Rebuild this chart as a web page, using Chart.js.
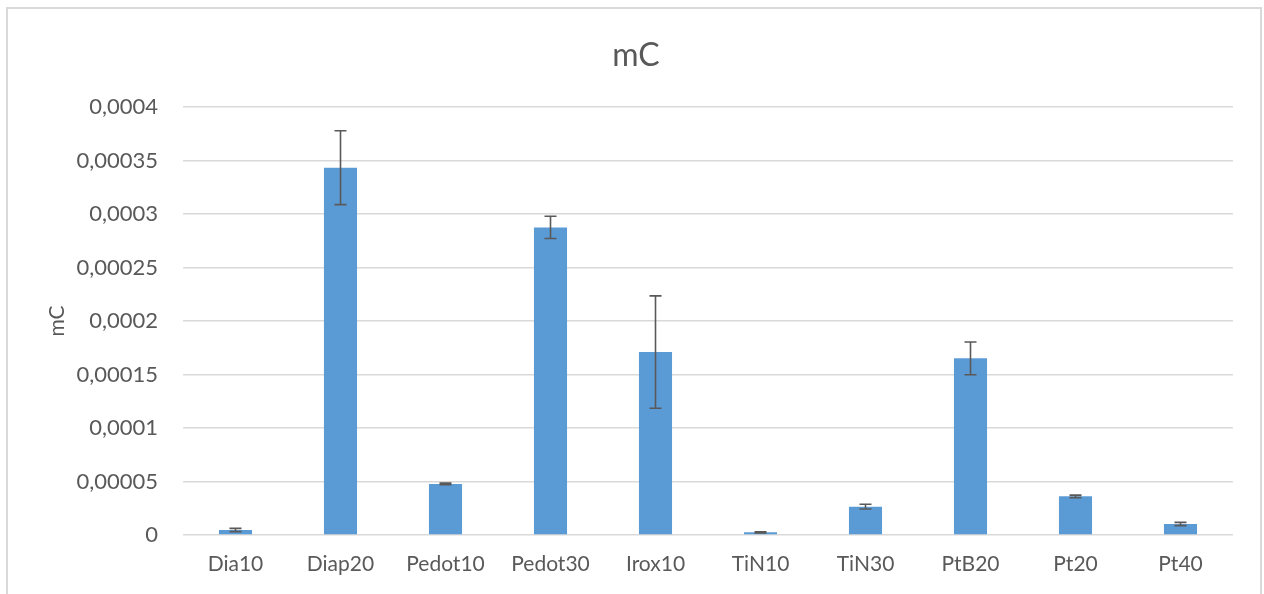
<!DOCTYPE html>
<html>
<head>
<meta charset="utf-8">
<script src="https://cdn.jsdelivr.net/npm/chart.js@4/dist/chart.umd.min.js"></script>
<style>
  html, body { margin: 0; padding: 0; background: #fff; overflow: hidden; }
  #wrap { position: relative; width: 1264px; height: 594px; }
  #frame { position: absolute; left: 6px; top: 7px; width: 1252px; height: 600px; border: 2px solid #d9d9d9; pointer-events: none; }
  canvas { position: absolute; left: 0; top: 0; }
</style>
</head>
<body>
<div id="wrap">
  <canvas id="c" width="1264" height="594"></canvas>
  <div id="frame"></div>
</div>
<script>
const categories = ["Dia10", "Diap20", "Pedot10", "Pedot30", "Irox10", "TiN10", "TiN30", "PtB20", "Pt20", "Pt40"];
const values = [0.0000047, 0.0003433, 0.0000477, 0.0002875, 0.000171, 0.0000025, 0.0000265, 0.0001651, 0.0000361, 0.0000103];
const errors = [0.0000015, 0.0000345, 0.0000008, 0.0000104, 0.0000525, 0.0000005, 0.0000022, 0.0000153, 0.0000012, 0.0000015];
const tickLabels = ["0", "0,00005", "0,0001", "0,00015", "0,0002", "0,00025", "0,0003", "0,00035", "0,0004"];

const FONT = "Lato, 'Open Sans', sans-serif";
const GREY = "#595959";

const errorBarPlugin = {
  id: "errorBars",
  afterDatasetsDraw(chart) {
    const meta = chart.getDatasetMeta(0);
    const y = chart.scales.y;
    const ctx = chart.ctx;
    ctx.save();
    ctx.strokeStyle = GREY;
    ctx.lineWidth = 1.6;
    meta.data.forEach((bar, i) => {
      const e = errors[i];
      const v = values[i];
      const top = y.getPixelForValue(v + e);
      const bot = y.getPixelForValue(v - e);
      const x = bar.x;
      const cap = 6;
      ctx.beginPath();
      ctx.moveTo(x, top); ctx.lineTo(x, bot);
      ctx.moveTo(x - cap, top); ctx.lineTo(x + cap, top);
      ctx.moveTo(x - cap, bot); ctx.lineTo(x + cap, bot);
      ctx.stroke();
    });
    ctx.restore();
  }
};

new Chart(document.getElementById("c"), {
  type: "bar",
  data: {
    labels: categories,
    datasets: [{
      data: values,
      backgroundColor: "#5b9bd5",
      borderWidth: 0,
      categoryPercentage: 1,
      barPercentage: 0.315
    }]
  },
  plugins: [errorBarPlugin],
  options: {
    responsive: false,
    animation: false,
    devicePixelRatio: 1,
    layout: { padding: { left: 39, right: 31, top: 0, bottom: 0 } },
    plugins: {
      legend: { display: false },
      tooltip: { enabled: false },
      title: {
        display: true,
        text: "mC",
        color: GREY,
        font: { family: FONT, size: 32, weight: "normal", lineHeight: 1.2 },
        padding: { top: 36, bottom: 32.6 }
      }
    },
    scales: {
      x: {
        grid: { display: false, drawTicks: false },
        border: { display: false },
        ticks: { color: GREY, font: { family: FONT, size: 21 }, padding: 17, maxRotation: 0 },
        afterFit(s) { s.height = 59; }
      },
      y: {
        min: 0,
        max: 0.0004,
        grid: { color: "#d9d9d9", lineWidth: 1.5, drawTicks: false },
        border: { display: false },
        ticks: {
          stepSize: 0.00005,
          color: GREY,
          font: { family: FONT, size: 22 },
          padding: 25,
          callback: (v, i) => tickLabels[i]
        },
        title: {
          display: true,
          text: "mC",
          color: GREY,
          font: { family: FONT, size: 21, lineHeight: 1.2 },
          padding: { top: 6, bottom: 0 }
        },
        afterFit(s) { s.width = 144; }
      }
    }
  }
});
</script>
</body>
</html>
